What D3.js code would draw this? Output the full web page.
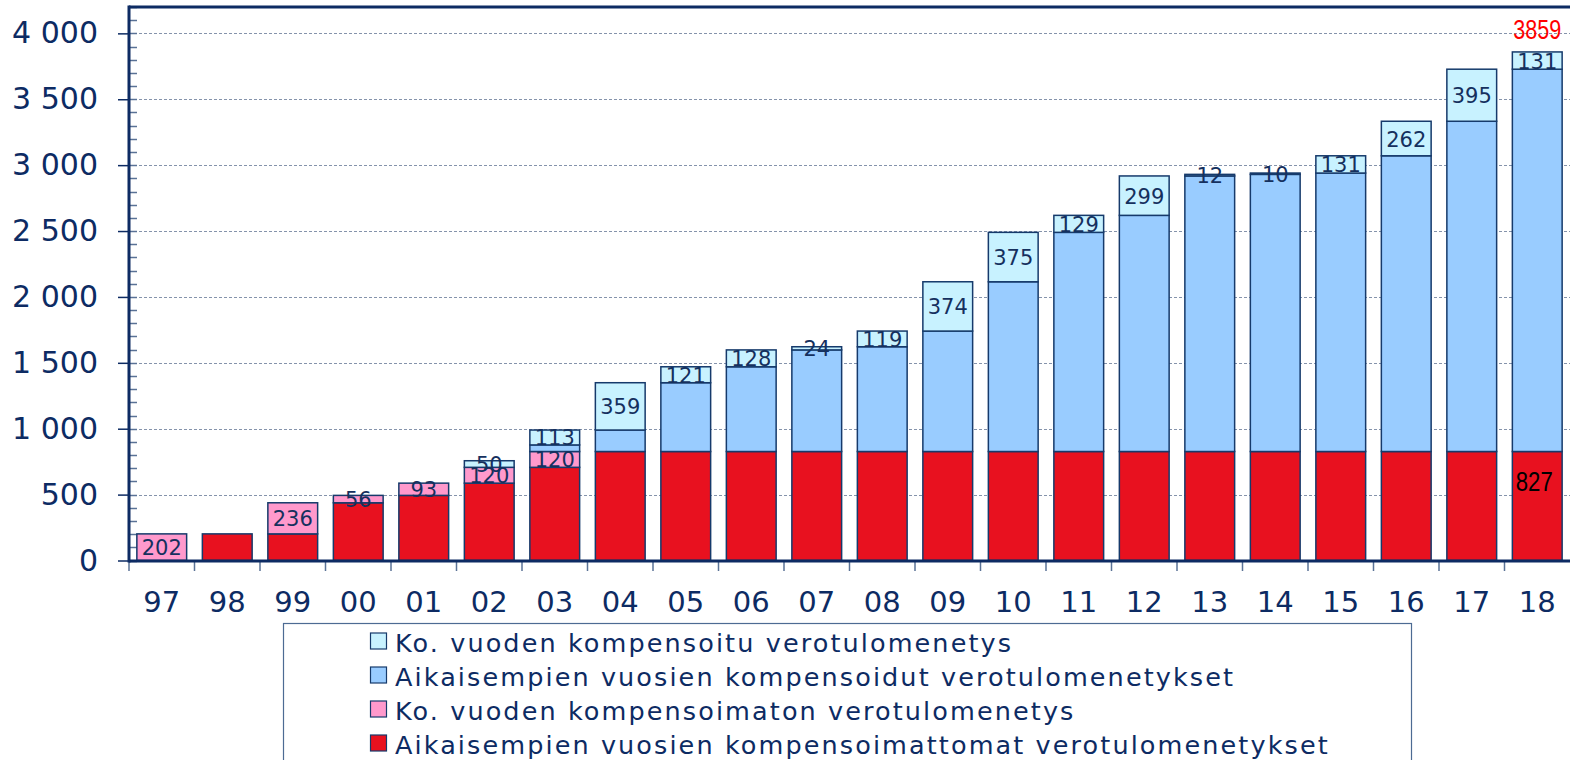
<!DOCTYPE html>
<html>
<head>
<meta charset="utf-8">
<script src="https://cdn.jsdelivr.net/npm/d3@7"></script>
<style>
  body { margin: 0; background: #fff; }
  svg { display: block; font-family: "DejaVu Sans", Verdana, sans-serif; }
</style>
</head>
<body>
<div id="chart"></div>
<script>
// Data
const years = ["97", "98", "99", "00", "01", "02", "03", "04", "05", "06", "07",
  "08", "09", "10", "11", "12", "13", "14", "15", "16", "17", "18"];
// Aikaisempien vuosien kompensoimattomat (red)
const prevUncomp = [0, 202, 202, 438, 494, 587, 707, 827, 827, 827, 827,
  827, 827, 827, 827, 827, 827, 827, 827, 827, 827, 827];
// Ko. vuoden kompensoimaton (pink)
const curUncomp = [202, 0, 236, 56, 93, 120, 120, 0, 0, 0, 0,
  0, 0, 0, 0, 0, 0, 0, 0, 0, 0, 0];
// Aikaisempien vuosien kompensoidut (blue)
const prevComp = [0, 0, 0, 0, 0, 0, 50, 163, 522, 643, 771,
  795, 914, 1288, 1663, 1792, 2091, 2103, 2113, 2244, 2506, 2901];
// Ko. vuoden kompensoitu (light cyan)
const curComp = [0, 0, 0, 0, 0, 50, 113, 359, 121, 128, 24,
  119, 374, 375, 129, 299, 12, 10, 131, 262, 395, 131];
const yTicks = [0, 500, 1000, 1500, 2000, 2500, 3000, 3500, 4000];
const totalLabel = "3859";
const baseLabel = "827";

const keys = ["prevUncomp", "curUncomp", "prevComp", "curComp"];
const legendItems = [
  { key: "curComp", label: "Ko. vuoden kompensoitu verotulomenetys" },
  { key: "prevComp", label: "Aikaisempien vuosien kompensoidut verotulomenetykset" },
  { key: "curUncomp", label: "Ko. vuoden kompensoimaton verotulomenetys" },
  { key: "prevUncomp", label: "Aikaisempien vuosien kompensoimattomat verotulomenetykset" }
];

const rows = years.map((y, i) => ({
  year: y,
  prevUncomp: prevUncomp[i],
  curUncomp: curUncomp[i],
  prevComp: prevComp[i],
  curComp: curComp[i]
}));

// Dimensions
const width = 1570;
const height = 760;
const margin = { top: 7, right: 0, bottom: 199, left: 129 };
const navy = "#0d2b63";

const svg = d3.select("#chart").append("svg")
  .attr("width", width)
  .attr("height", height);

// Scales
const x = d3.scaleBand()
  .domain(years)
  .range([margin.left, width - margin.right])
  .paddingInner(0.24)
  .paddingOuter(0.12);

const y = d3.scaleLinear()
  .domain([0, 4200])
  .range([height - margin.bottom - 0.5, margin.top]);

const color = d3.scaleOrdinal()
  .domain(keys)
  .range(["#e8111f", "#ff99cc", "#99ccff", "#c8f2ff"]);

// Gridlines
svg.append("g")
  .selectAll("line")
  .data(yTicks.filter(d => d > 0))
  .enter()
  .append("line")
    .attr("x1", margin.left)
    .attr("x2", width)
    .attr("y1", d => Math.round(y(d)) + 0.5)
    .attr("y2", d => Math.round(y(d)) + 0.5)
    .attr("stroke", "#8593ab")
    .attr("stroke-width", 1)
    .attr("stroke-dasharray", "3,2");

// Minor ticks on y axis (inside)
svg.append("g")
  .selectAll("line")
  .data(d3.range(0, 4201, 100))
  .enter()
  .append("line")
    .attr("x1", margin.left)
    .attr("x2", margin.left + 8)
    .attr("y1", d => Math.round(y(d)) + 0.5)
    .attr("y2", d => Math.round(y(d)) + 0.5)
    .attr("stroke", "#5a7296")
    .attr("stroke-width", 1.5);

// Stacked bars
const series = d3.stack().keys(keys)(rows);

const layers = svg.append("g")
  .selectAll("g")
  .data(series)
  .enter()
  .append("g")
    .attr("fill", d => color(d.key));

layers.selectAll("rect")
  .data(d => d.filter(s => s[1] - s[0] > 0))
  .enter()
  .append("rect")
    .attr("x", d => x(d.data.year))
    .attr("y", d => y(d[1]))
    .attr("width", x.bandwidth())
    .attr("height", d => y(d[0]) - y(d[1]))
    .attr("stroke", "#163a6b")
    .attr("stroke-width", 1.5);

// Segment labels (pink and cyan)
series.filter(s => s.key === "curUncomp" || s.key === "curComp").forEach(s => {
  svg.append("g")
    .selectAll("text")
    .data(s.filter(d => d[1] - d[0] > 0))
    .enter()
    .append("text")
      .attr("x", d => x(d.data.year) + x.bandwidth() / 2)
      .attr("y", d => y((d[0] + d[1]) / 2) + 8)
      .attr("text-anchor", "middle")
      .attr("font-size", 21)
      .attr("fill", "#15305e")
      .text(d => d[1] - d[0]);
});

// Total and base labels on last bar
const lastYear = years[years.length - 1];
svg.append("text")
  .attr("x", x(lastYear) + x.bandwidth() / 2)
  .attr("y", y(+totalLabel) - 13)
  .attr("text-anchor", "middle")
  .attr("font-family", "Liberation Sans, Arial, sans-serif")
  .attr("font-size", 27)
  .attr("textLength", 48)
  .attr("lengthAdjust", "spacingAndGlyphs")
  .attr("fill", "#ff0000")
  .text(totalLabel);

svg.append("text")
  .attr("x", x(lastYear) + x.bandwidth() / 2 - 3)
  .attr("y", y(+baseLabel) + 39)
  .attr("text-anchor", "middle")
  .attr("font-family", "Liberation Sans, Arial, sans-serif")
  .attr("font-size", 27)
  .attr("textLength", 37)
  .attr("lengthAdjust", "spacingAndGlyphs")
  .attr("fill", "#000")
  .text(baseLabel);

// Y axis
const yAxis = svg.append("g")
  .attr("transform", `translate(${margin.left}, 0)`)
  .call(d3.axisLeft(y).tickValues(yTicks).tickSize(11).tickPadding(20)
    .tickFormat(d => d3.format(",")(d).replace(",", " ")));
yAxis.select(".domain").remove();
yAxis.selectAll(".tick line").attr("stroke", navy).attr("stroke-width", 1.5);
yAxis.selectAll(".tick text")
  .attr("font-size", 30)
  .attr("font-family", "DejaVu Sans, Verdana, sans-serif")
  .attr("fill", navy);

// X axis
const xAxis = svg.append("g")
  .attr("transform", `translate(0, ${height - margin.bottom})`)
  .call(d3.axisBottom(x).tickSize(0).tickPadding(30));
xAxis.select(".domain").remove();
xAxis.selectAll(".tick text")
  .attr("font-size", 29)
  .attr("font-family", "DejaVu Sans, Verdana, sans-serif")
  .attr("fill", navy);

// X boundary ticks
svg.append("g")
  .selectAll("line")
  .data(years)
  .enter()
  .append("line")
    .attr("x1", d => x(d) - x.step() * 0.12)
    .attr("x2", d => x(d) - x.step() * 0.12)
    .attr("y1", height - margin.bottom)
    .attr("y2", height - margin.bottom + 10)
    .attr("stroke", "#5a7296")
    .attr("stroke-width", 1.5);

// Frame lines
svg.append("line")
  .attr("x1", margin.left).attr("x2", width)
  .attr("y1", height - margin.bottom).attr("y2", height - margin.bottom)
  .attr("stroke", navy).attr("stroke-width", 3);
svg.append("line")
  .attr("x1", margin.left).attr("x2", margin.left)
  .attr("y1", margin.top - 1.5).attr("y2", height - margin.bottom + 1.5)
  .attr("stroke", navy).attr("stroke-width", 3);
svg.append("line")
  .attr("x1", margin.left).attr("x2", width)
  .attr("y1", margin.top).attr("y2", margin.top)
  .attr("stroke", navy).attr("stroke-width", 3);

// Legend
const legend = svg.append("g");
legend.append("rect")
  .attr("x", 283.5)
  .attr("y", 623.5)
  .attr("width", 1128)
  .attr("height", 150)
  .attr("fill", "#fff")
  .attr("stroke", "#4d6b93")
  .attr("stroke-width", 1.2);

legendItems.forEach((item, i) => {
  legend.append("rect")
    .attr("x", 370.5)
    .attr("y", 633 + i * 34)
    .attr("width", 16)
    .attr("height", 16)
    .attr("fill", color(item.key))
    .attr("stroke", "#163a6b")
    .attr("stroke-width", 1.2);

  legend.append("text")
    .attr("x", 395)
    .attr("y", 652 + i * 34)
    .attr("font-size", 25.5)
    .attr("letter-spacing", 2.1)
    .attr("fill", navy)
    .text(item.label);
});
</script>
</body>
</html>
